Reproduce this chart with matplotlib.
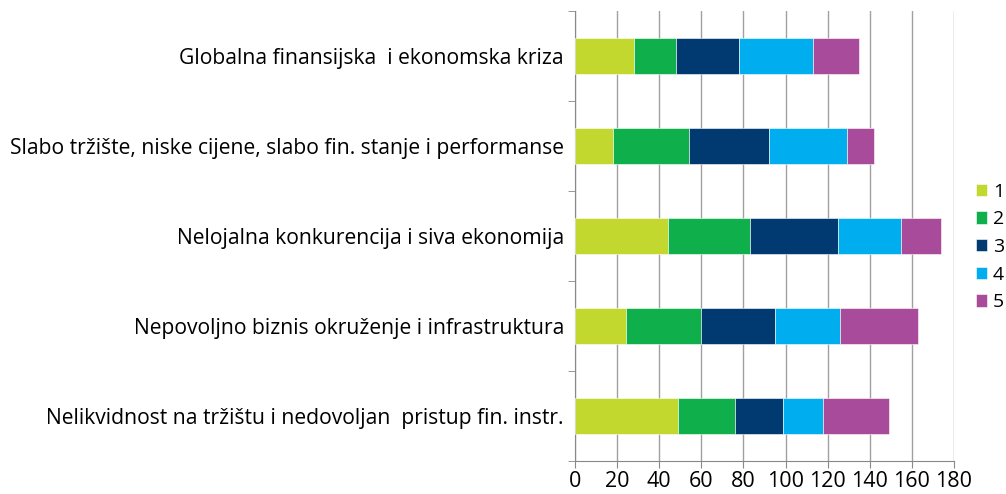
import numpy as np
import matplotlib
matplotlib.use("Agg")
import matplotlib.pyplot as plt

plt.rcParams['font.family'] = ['Open Sans', 'DejaVu Sans']

# kategorije (odozgo prema dolje)
kategorije = [
    "Globalna finansijska  i ekonomska kriza",
    "Slabo tržište, niske cijene, slabo fin. stanje i performanse",
    "Nelojalna konkurencija i siva ekonomija",
    "Nepovoljno biznis okruženje i infrastruktura",
    "Nelikvidnost na tržištu i nedovoljan  pristup fin. instr.",
]
serije = ["1", "2", "3", "4", "5"]
ocjena_1 = [28, 18, 44, 24, 49]
ocjena_2 = [20, 36, 39, 36, 27]
ocjena_3 = [30, 38, 42, 35, 23]
ocjena_4 = [35, 37, 30, 31, 19]
ocjena_5 = [22, 13, 19, 37, 31]
boje = ["#C3D82F", "#0FB04B", "#003A70", "#00AEEF", "#A84B9A"]

fig = plt.figure(figsize=(10.06, 4.94), dpi=100)
ax = fig.add_axes([0.5716, 0.0668, 0.3767, 0.911])

y = np.arange(len(kategorije))
lijevo = np.zeros(len(kategorije))
for naziv, vrijednosti, boja in zip(serije, [ocjena_1, ocjena_2, ocjena_3, ocjena_4, ocjena_5], boje):
    ax.barh(y, vrijednosti, left=lijevo, height=0.4, color=boja, label=naziv,
            edgecolor="white", linewidth=0.4, zorder=3)
    lijevo += np.array(vrijednosti)

ax.set_xlim(0, 180)
ax.set_ylim(len(kategorije) - 0.5, -0.5)
ax.set_xticks(np.arange(0, 181, 20))
ax.set_yticks(y)
ax.set_yticklabels(kategorije)
ax.set_yticks(np.arange(-0.5, len(kategorije), 1), minor=True)
ax.tick_params(axis="y", which="major", length=0, pad=8, labelsize=15.2)
ax.tick_params(axis="y", which="minor", length=5, color="#888888")
ax.tick_params(axis="x", length=5, color="#888888", labelsize=15.5, pad=2)

ax.grid(axis="x", color="#A0A0A0", linewidth=1, zorder=0)
for s in ["top", "right"]:
    ax.spines[s].set_visible(False)
for s in ["left", "bottom"]:
    ax.spines[s].set_color("#888888")

leg = ax.legend(loc="center left", bbox_to_anchor=(0.962, 0.5), bbox_transform=fig.transFigure,
                frameon=False, fontsize=14, handlelength=0.6, handleheight=0.6,
                handletextpad=0.3, labelspacing=0.5, borderaxespad=0)

fig.savefig("out.png", dpi=100)
